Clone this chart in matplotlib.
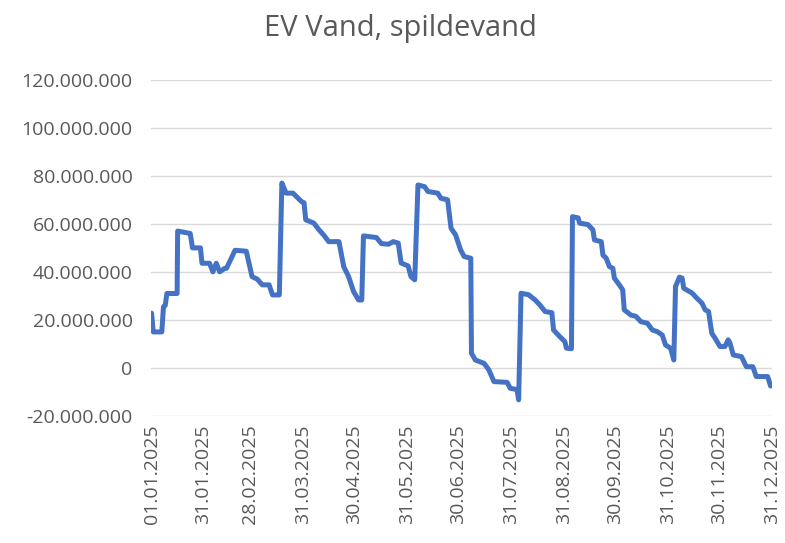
import matplotlib
matplotlib.use("Agg")
import matplotlib.pyplot as plt
from matplotlib.ticker import FuncFormatter
import numpy as np

# breakpoints of the running balance: day of year (0 = 01.01.2025) and value in millions
DAYS = [0, 1, 6, 7, 8, 9, 15, 15.3, 22.7, 24, 28.7, 29.6, 34, 36, 38, 40, 43, 44,
        49, 55.6, 59, 62, 65, 69, 71, 75, 76.5, 79, 83, 85, 88, 89.5, 90.5, 95.3,
        98.3, 101, 104, 110, 112.8, 115.7, 118.6, 121.5, 123.4, 124.4, 132, 134.9,
        139, 141.9, 144.8, 146.5, 150.6, 152.3, 154.5, 156.4, 160.3, 162.2, 168,
        169.8, 173.8, 175.8, 178.5, 181.4, 183.5, 187.4, 187.8, 190.1, 195.2, 198,
        201, 208.7, 210.6, 214.5, 215.5, 216.9, 221.3, 225.2, 228, 231, 235, 236,
        239.7, 242.6, 243.6, 246.5, 247.1, 250.4, 251.3, 256.2, 259.1, 260, 264,
        265, 266.9, 268.8, 270.8, 271.7, 274.6, 276.6, 277.5, 281.4, 284.3, 287.2,
        291.1, 294, 296.9, 299.8, 301.7, 304.7, 306.6, 307.6, 309.9, 311.5, 312.4,
        317.3, 320.2, 323.1, 325, 327, 328.9, 330.8, 333.7, 336.6, 338.5, 339.5,
        341.5, 346.3, 349.2, 353, 355, 361.7, 363.4, 364]
VALUES_M = [22.8, 15, 15, 25.5, 26, 31, 31, 57, 56, 50, 50, 43.6, 43.6, 40, 43.6, 40,
            41.5, 41.5, 49, 48.6, 38, 37, 34.6, 34.6, 30.4, 30.4, 77, 72.8, 72.8,
            71.4, 69.3, 68.8, 61.7, 60.3, 57.5, 55.4, 52.6, 52.6, 42.2, 38, 31.8,
            28.3, 28.3, 55, 54.3, 51.8, 51.5, 52.6, 52, 43.7, 42.5, 38, 36.7, 76.2,
            75.5, 73.5, 72.8, 70.7, 70, 58.2, 55.4, 49.2, 46.4, 45.7, 6.1, 3.3, 1.9,
            -0.8, -5.7, -6, -8.5, -9, -13.3, 31.1, 30.5, 28.3, 26.2, 23.5, 23, 15.8,
            13, 11, 8.2, 8, 63, 62.5, 60.3, 59.7, 57.5, 53.3, 52.6, 47, 45.7, 42.2,
            41.5, 37.4, 34.6, 32.5, 24.2, 22, 21.5, 19.3, 18.6, 15.8, 15.1, 13.7,
            9.6, 8.2, 3.3, 33.9, 37.8, 37.4, 33.2, 31.2, 29, 27, 24.2, 23.5, 14.4,
            12.4, 8.9, 8.9, 11.7, 10.5, 5.4, 4.7, 0.5, 0.5, -3.6, -3.6, -7.5, -7.5]

# month-end ticks (day of year)
TICK_DAYS = [0, 30, 58, 89, 119, 150, 180, 211, 242, 272, 303, 333, 364]
TICK_LABELS = ["01.01.2025", "31.01.2025", "28.02.2025", "31.03.2025", "30.04.2025",
               "31.05.2025", "30.06.2025", "31.07.2025", "31.08.2025", "30.09.2025",
               "31.10.2025", "30.11.2025", "31.12.2025"]

TEXT = "#595959"
plt.rcParams["font.family"] = ["Open Sans", "DejaVu Sans"]

fig = plt.figure(figsize=(7.85, 5.43), dpi=100)
ax = fig.add_axes([0.192, 0.234, 0.792, 0.619])

values = np.array(VALUES_M) * 1e6
ax.plot(DAYS, values, color="#4472C4", linewidth=3.6, solid_joinstyle="round",
        solid_capstyle="round", zorder=3)

ax.set_xlim(-0.5, 364.5)
ax.set_ylim(-20e6, 120e6)
ax.set_yticks(np.arange(-20e6, 120e6 + 1, 20e6))
ax.yaxis.set_major_formatter(FuncFormatter(lambda v, p: f"{v:,.0f}".replace(",", ".")))
ax.set_xticks(TICK_DAYS)
ax.set_xticklabels(TICK_LABELS, rotation=90)

ax.grid(axis="y", color="#D9D9D9", linewidth=1.0)
ax.set_axisbelow(True)
for s in ax.spines.values():
    s.set_visible(False)
ax.tick_params(axis="y", length=0, labelsize=14, colors=TEXT, pad=13)
ax.tick_params(axis="x", length=0, labelsize=14, colors=TEXT, pad=6)

fig.suptitle("EV Vand, spildevand", x=0.51, y=0.975, fontsize=21, color=TEXT)

fig.savefig("out.png", dpi=100)
